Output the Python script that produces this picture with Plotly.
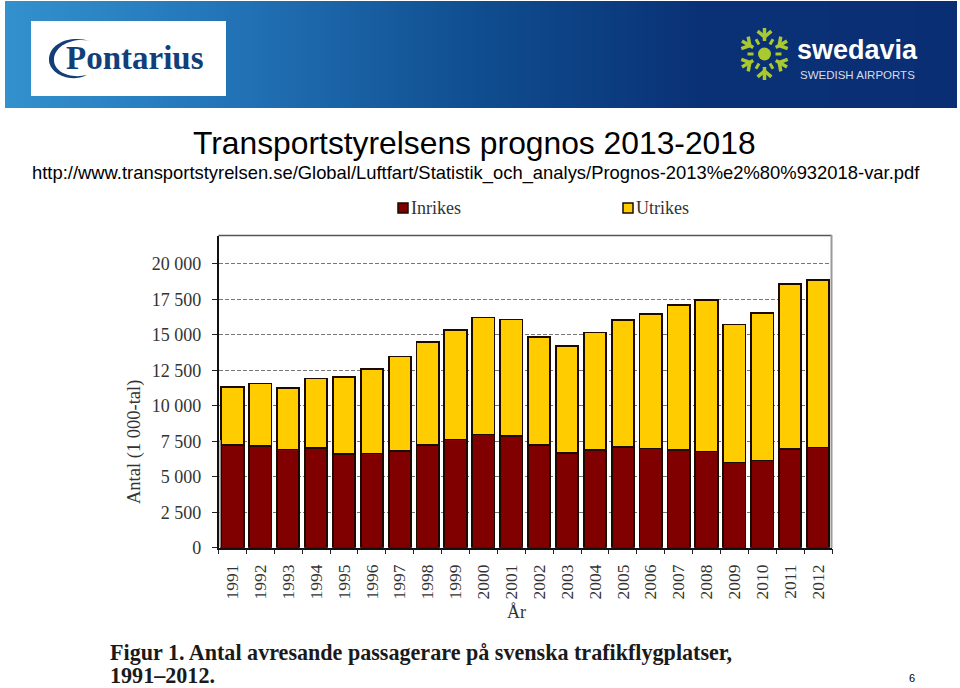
# coding: utf-8
import math

import plotly.graph_objs as go

WIDTH = 960
HEIGHT = 688
SERIF = 'Liberation Serif'
SANS = 'Liberation Sans'
INRIKES_COLOR = '#800000'
UTRIKES_COLOR = '#ffcc00'
EDGE_COLOR = '#1a0a00'

years = ['1991', '1992', '1993', '1994', '1995', '1996', '1997', '1998', '1999', '2000', '2001',
         '2002', '2003', '2004', '2005', '2006', '2007', '2008', '2009', '2010', '2011', '2012']
inrikes = [7230, 7160, 6920, 7040, 6600, 6640, 6810, 7250, 7630, 7980, 7890,
           7230, 6690, 6880, 7110, 6990, 6900, 6780, 6010, 6150, 6970, 7060]
utrikes = [4110, 4410, 4350, 4880, 5420, 5940, 6660, 7230, 7700, 8240, 8190,
           7600, 7510, 8280, 8920, 9490, 10190, 10680, 9720, 10400, 11600, 11830]
y_ticks = [0, 2500, 5000, 7500, 10000, 12500, 15000, 17500, 20000]
y_tick_labels = ['0', '2 500', '5 000', '7 500', '10 000', '12 500', '15 000', '17 500', '20 000']
band_colors = [[0, '#3391cd'], [0.24, '#2273b6'], [0.5, '#0f4d8f'], [0.73, '#0a3176'], [1, '#0a2e74']]


# page pixels to paper coordinates (margins are 0, so paper is the page)
def px(x):
    return x / WIDTH


def py(y):
    return 1 - y / HEIGHT


def text(x, y, s, size, color='black', family=SANS, xanchor='center', **kw):
    return dict(x=px(x), y=py(y), xref='paper', yref='paper', text=s, showarrow=False,
                xanchor=xanchor, yanchor='middle',
                font=dict(family=family, size=size, color=color), **kw)


def rect(x0, y0, x1, y1, color, edge=None):
    return dict(type='rect', xref='paper', yref='paper', x0=px(x0), x1=px(x1), y0=py(y0), y1=py(y1),
                fillcolor=color, line=dict(color=edge, width=1.5) if edge else dict(width=0))


def line(x0, y0, x1, y1, color, width):
    return dict(type='line', xref='paper', yref='paper', x0=px(x0), x1=px(x1), y0=py(y0), y1=py(y1),
                line=dict(color=color, width=width))


def snowflake(cx, cy, color):
    items = []
    for k in range(6):
        a = math.radians(90 + 60 * k)
        ux, uy = math.cos(a), -math.sin(a)
        items.append(line(cx + 13 * ux, cy + 13 * uy, cx + 26 * ux, cy + 26 * uy, color, 3.5))
        for side in (-1, 1):
            b = a + side * math.radians(50)
            vx, vy = math.cos(b), -math.sin(b)
            sx, sy = cx + 17 * ux, cy + 17 * uy
            items.append(line(sx, sy, sx + 9 * vx, sy + 9 * vy, color, 3.5))
        # small plane marks between the arms
        a2 = a + math.radians(30)
        wx, wy = math.cos(a2), -math.sin(a2)
        items.append(line(cx + 11 * wx, cy + 11 * wy, cx + 17 * wx, cy + 17 * wy, color, 3))
    items.append(dict(type='circle', xref='paper', yref='paper', x0=px(cx - 6.5), x1=px(cx + 6.5),
                      y0=py(cy + 6.5), y1=py(cy - 6.5), fillcolor=color, line_width=0))
    return items


def crescent(color):
    p = lambda x, y: f'{px(x):.5f},{py(y):.5f}'
    path = (f'M{p(90, 41)} C{p(72, 35)} {p(49, 42)} {p(49, 60)} C{p(49, 72)} {p(68, 84)} {p(87, 75)} '
            f'C{p(70, 79)} {p(54, 72)} {p(54, 60)} C{p(54, 45)} {p(74, 37)} {p(90, 41)} Z')
    return dict(type='path', xref='paper', yref='paper', path=path, fillcolor=color, line_width=0)


fig = go.Figure()

fig.add_trace(go.Bar(x=years, y=inrikes, name='Inrikes', marker=dict(color=INRIKES_COLOR, line=dict(color=EDGE_COLOR, width=1.8))))
fig.add_trace(go.Bar(x=years, y=utrikes, name='Utrikes', marker=dict(color=UTRIKES_COLOR, line=dict(color=EDGE_COLOR, width=1.8))))

# header band
fig.add_trace(go.Heatmap(z=[[0, 1]], x=[0, 1], y=[0], xaxis='x2', yaxis='y2', colorscale=band_colors,
                         zsmooth='best', showscale=False, hoverinfo='skip'))

shapes = [
    rect(31, 21, 226, 96, 'white'),
    crescent('#123f78'),
    line(218.5, 235.5, 832, 235.5, '#555555', 1.5),
    line(831.5, 235, 831.5, 548, '#9a9a9a', 2),
    line(220, 440, 220, 547, '#bbbbbb', 1.5),
    # legend swatches
    rect(398, 203, 408, 213, INRIKES_COLOR, EDGE_COLOR),
    rect(623, 203, 633, 213, UTRIKES_COLOR, EDGE_COLOR),
]
shapes.extend(snowflake(764.5, 54, '#a9c92f'))

annotations = [
    text(134, 442, 'Antal (1 000-tal)', 18.5, '#333333', SERIF, textangle=-90),
    text(516, 612, 'År', 18, '#333333', SERIF),
    text(134.5, 58, '<b>Pontarius</b>', 33, '#123f78', SERIF),
    text(857.5, 50, '<b>swedavia</b>', 27, 'white', SANS),
    text(857.5, 75, 'SWEDISH AIRPORTS', 11.5, '#d5dcea', SANS),
    text(474, 143, 'Transportstyrelsens prognos 2013-2018', 31.8),
    text(475.5, 173, 'http://www.transportstyrelsen.se/Global/Luftfart/Statistik_och_analys/Prognos-2013%e2%80%932018-var.pdf', 18.4),
    text(108, 652, '<b>Figur 1. Antal avresande passagerare på svenska trafikflygplatser,</b>', 22.1, '#1a1a1a', SERIF, xanchor='left'),
    text(108, 675, '<b>1991–2012.</b>', 22.1, '#1a1a1a', SERIF, xanchor='left'),
    text(912, 678, '6', 11),
    text(409, 208, 'Inrikes', 18, '#333333', SERIF, xanchor='left'),
    text(634, 208, 'Utrikes', 18, '#333333', SERIF, xanchor='left'),
]

fig.update_layout(
    width=WIDTH, height=HEIGHT,
    margin=dict(l=0, r=0, t=0, b=0, autoexpand=False),
    barmode='stack', bargap=0.2,
    showlegend=False,
    plot_bgcolor='white', paper_bgcolor='white',
    font=dict(family=SERIF, color='#333333'),
    shapes=shapes, annotations=annotations,
    xaxis=dict(domain=[px(218.5), px(832)], type='category', tickson='boundaries', ticks='outside', ticklen=5,
               tickcolor='#222222', tickangle=-90, tickfont=dict(family=SERIF, size=17.5, color='#333333'),
               ticklabelstandoff=8, showline=True, linecolor='#111111', linewidth=1.5, showgrid=False,
               zeroline=False, anchor='y'),
    yaxis=dict(domain=[py(547.7), py(235.5)], range=[0, 22000], tickvals=y_ticks, ticktext=y_tick_labels,
               ticks='outside', ticklen=5, tickcolor='#222222', tickfont=dict(family=SERIF, size=18, color='#333333'),
               ticklabelstandoff=7, showline=True, linecolor='#111111', linewidth=1.5, zeroline=False,
               gridcolor='#777777', griddash='4px,2px', gridwidth=1, anchor='x'),
    xaxis2=dict(domain=[px(5), px(957)], range=[0, 1], visible=False, anchor='y2'),
    yaxis2=dict(domain=[py(108), py(1)], range=[-0.5, 0.5], visible=False, anchor='x2'),
)

fig.write_html("out.html", config=dict(displayModeBar=False),
               post_script="document.body.style.margin='0';")
